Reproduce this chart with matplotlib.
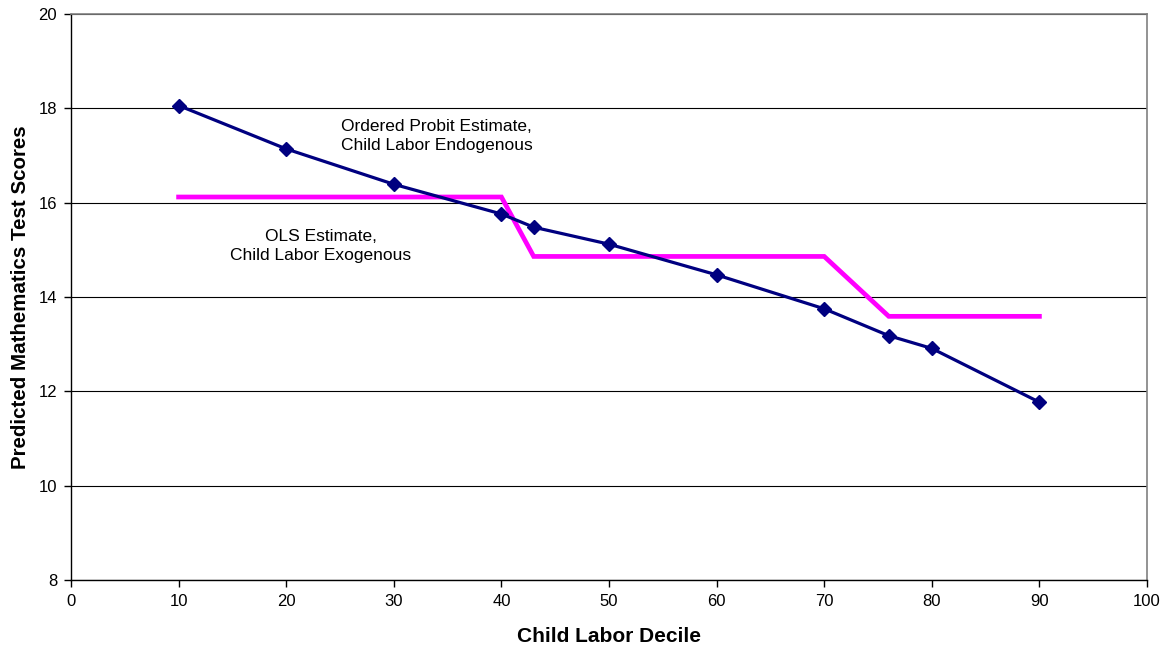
import matplotlib
matplotlib.use("Agg")
import matplotlib.pyplot as plt

plt.rcParams['font.family'] = ['Liberation Sans', 'DejaVu Sans']

# Ordered probit predictions by child labor decile
probit_x = [10, 20, 30, 40, 43, 50, 60, 70, 76, 80, 90]
probit_y = [18.06, 17.14, 16.39, 15.76, 15.48, 15.12, 14.47, 13.75, 13.18, 12.91, 11.77]

# OLS predictions (step pattern)
ols_x = [10, 40, 43, 70, 76, 90]
ols_y = [16.12, 16.12, 14.86, 14.86, 13.59, 13.59]

fig = plt.figure(figsize=(11.69, 6.53), dpi=100)
ax = fig.add_axes([71/1169, 73/653, (1147-71)/1169, (580-14)/653])

ax.set_xlim(0, 100)
ax.set_ylim(8, 20)
ax.set_xticks(range(0, 101, 10))
ax.set_yticks(range(8, 21, 2))
ax.yaxis.grid(True, color='black', linewidth=0.8)
ax.set_axisbelow(True)

ax.plot(ols_x, ols_y, color='#FF00FF', linewidth=3.4, solid_joinstyle='miter', zorder=2)
ax.plot(probit_x, probit_y, color='#000080', linewidth=2.3, marker='D',
        markersize=7.5, zorder=3)

for side in ['top', 'right']:
    ax.spines[side].set_color('#808080')
    ax.spines[side].set_linewidth(1.2)
for side in ['left', 'bottom']:
    ax.spines[side].set_color('black')
    ax.spines[side].set_linewidth(1.0)

ax.tick_params(direction='out', length=5, width=1, labelsize=12, colors='black', pad=5)

ax.text(34.0, 17.41, "Ordered Probit Estimate,\nChild Labor Endogenous",
        ha='center', va='center', fontsize=12.5, linespacing=1.3)
ax.text(23.2, 15.08, "OLS Estimate,\nChild Labor Exogenous",
        ha='center', va='center', fontsize=12.5, linespacing=1.3)

ax.set_xlabel("Child Labor Decile", fontsize=15, fontweight='bold', labelpad=13)
ax.set_ylabel("Predicted Mathematics Test Scores", fontsize=14.8, fontweight='bold', labelpad=6)

fig.savefig("out.png", dpi=100)
